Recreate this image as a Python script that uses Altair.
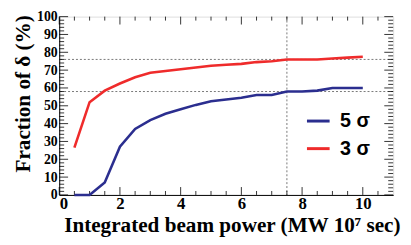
import altair as alt
import pandas as pd

# ---- data ----
beam_power = [0.5, 1.0, 1.5, 2.0, 2.5, 3.0, 3.5, 4.0, 4.5, 5.0,
              5.5, 6.0, 6.5, 7.0, 7.5, 8.0, 8.5, 9.0, 9.5, 10.0]
frac_5sigma = [0, 0, 7, 27, 37, 42, 45.5, 48, 50.5, 52.5,
               53.5, 54.5, 56, 56, 58, 58, 58.5, 60, 60, 60]
frac_3sigma = [26.5, 52, 58.5, 62.5, 66, 68.5, 69.5, 70.5, 71.5, 72.5,
               73, 73.5, 74.5, 75, 76, 76, 76, 76.5, 77, 77.5]
series_names = ["5 σ", "3 σ"]
series_colors = ["#2b2e8f", "#ef2b2b"]

ref_h = [76, 58]
ref_v = [7.5]

x_labels = [0, 2, 4, 6, 8, 10]
x_minor = [0.5, 1, 1.5, 2.5, 3, 3.5, 4.5, 5, 5.5, 6.5, 7, 7.5,
           8.5, 9, 9.5, 10.5]
y_labels = [0, 10, 20, 30, 40, 50, 60, 70, 80, 90, 100]
y_minor = [2, 4, 6, 8, 12, 14, 16, 18, 22, 24, 26, 28, 32, 34, 36, 38,
           42, 44, 46, 48, 52, 54, 56, 58, 62, 64, 66, 68, 72, 74, 76, 78,
           82, 84, 86, 88, 92, 94, 96, 98]

W, H = 339, 181
SERIF = "Liberation Serif, DejaVu Serif, serif"
SANS = "Liberation Sans, Arial, sans-serif"

df = pd.DataFrame({
    "x": beam_power * 2,
    "y": frac_5sigma + frac_3sigma,
    "s": [series_names[0]] * len(beam_power) + [series_names[1]] * len(beam_power),
})

xs = alt.Scale(domain=[0, 11], nice=False, zero=False)
ys = alt.Scale(domain=[0, 100], nice=False)

xaxis = alt.Axis(values=x_labels, tickSize=0, grid=False, domainColor="black",
                 labelOverlap=False,
                 labelFont=SERIF, labelFontWeight="bold", labelFontSize=17,
                 labelColor="black", labelPadding=1,
                 title="Integrated beam power (MW 10⁷ sec)", titleFont=SERIF,
                 titleFontWeight="bold", titleFontSize=21.5, titleColor="black",
                 titleAnchor="end", titleAlign="right", titleX=346, titleY=37,
                 titleBaseline="alphabetic")
yaxis = alt.Axis(values=y_labels, tickSize=0, grid=False, domainColor="black",
                 labelOverlap=False,
                 labelFont=SERIF, labelFontWeight="bold", labelFontSize=14,
                 labelColor="black", labelPadding=2,
                 title="Fraction of  δ (%)", titleFont=SERIF,
                 titleFontWeight="bold", titleFontSize=21.5, titleColor="black",
                 titleAnchor="end", titleAlign="right", titleAngle=-90,
                 titleX=-30, titleY=-2, titleBaseline="alphabetic")

X = lambda: alt.X("x:Q", scale=xs, axis=xaxis)
Y = lambda: alt.Y("y:Q", scale=ys, axis=yaxis)

lines = alt.Chart(df).mark_line(strokeWidth=2.6).encode(
    x=X(), y=Y(),
    color=alt.Color("s:N", scale=alt.Scale(domain=series_names, range=series_colors),
                    sort=series_names,
                    legend=alt.Legend(title=None, orient="none", legendX=250, legendY=93,
                                      symbolType="stroke", symbolSize=529,
                                      symbolStrokeWidth=3, labelFont=SANS,
                                      labelFontWeight="bold", labelFontSize=20,
                                      labelColor="black", labelOffset=9,
                                      rowPadding=5, padding=0)),
)

dash = dict(color="#555555", strokeWidth=0.8, strokeDash=[2, 2])
hlines = alt.Chart(pd.DataFrame({"y": ref_h})).mark_rule(**dash).encode(y=Y())
vlines = alt.Chart(pd.DataFrame({"x": ref_v})).mark_rule(**dash).encode(x=X())

tick = dict(color="black", strokeWidth=0.8)
xmaj = pd.DataFrame({"x": x_labels})
xmin = pd.DataFrame({"x": x_minor})
ymaj = pd.DataFrame({"y": y_labels})
ymin = pd.DataFrame({"y": y_minor})

def xt(d, L, top):
    return alt.Chart(d).mark_rule(**tick).encode(
        x=X(), y=alt.value(0 if top else H), y2=alt.value(L if top else H - L))

def yt(d, L, right):
    return alt.Chart(d).mark_rule(**tick).encode(
        y=Y(), x=alt.value(W if right else 0), x2=alt.value(W - L if right else L))

ticks = [xt(xmaj, 8, False), xt(xmin, 4, False), xt(xmaj, 8, True), xt(xmin, 4, True),
         yt(ymaj, 9, False), yt(ymin, 5, False), yt(ymaj, 9, True), yt(ymin, 5, True)]

chart = alt.layer(hlines, vlines, *ticks, lines).properties(
    width=W, height=H,
    autosize=alt.AutoSizeParams(type="none"),
    padding={"left": 52, "top": 7, "right": 10, "bottom": 45},
).configure_view(stroke="black", strokeWidth=1).configure(background="white")

chart.save("out.html", embed_options={"renderer": "svg", "actions": False})
